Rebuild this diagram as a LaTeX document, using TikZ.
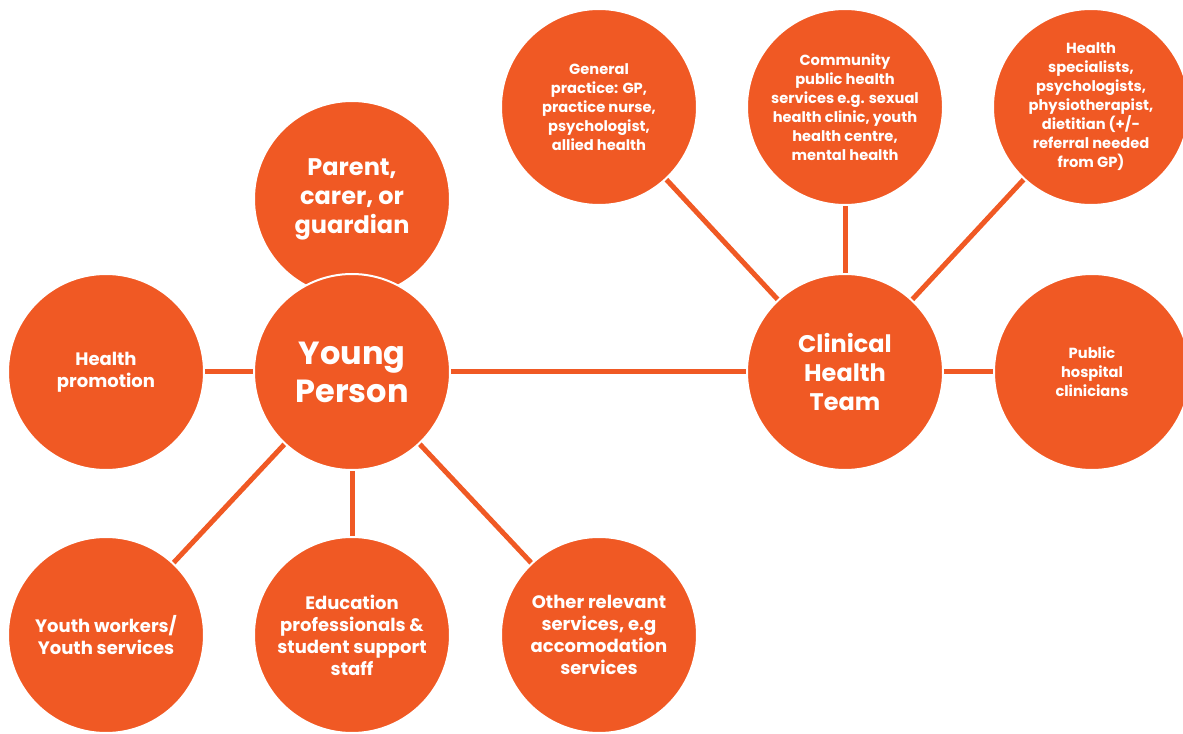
\documentclass[tikz,border=0pt]{standalone}
\usepackage{fontspec}
\newfontfamily\circfont{Poppins}
\usetikzlibrary{backgrounds}
\definecolor{carrot}{RGB}{240,89,36}

\tikzset{
  blob/.style={circle,fill=carrot,draw=white,line width=1.5pt,minimum size=147pt,
    inner sep=0pt,text=white,align=center,font=\circfont\bfseries},
  bigtext/.style={font=\circfont\bfseries\fontsize{24}{28.5}\selectfont},
  midtext/.style={font=\circfont\bfseries\fontsize{18}{21.75}\selectfont},
  lowtext/.style={font=\circfont\bfseries\fontsize{13.5}{16.5}\selectfont},
  smalltext/.style={font=\circfont\bfseries\fontsize{11}{14.25}\selectfont},
  link/.style={draw=carrot,line width=3.75pt}
}

\begin{document}
\begin{tikzpicture}[x=0.75pt,y=0.75pt]
\useasboundingbox (0,0) rectangle (1183,733);
% young person side
\node[blob,midtext] (parent) at (352,534) {Parent,\\carer, or\\guardian};
\node[blob,bigtext] (young) at (352,361) {Young\\Person};
\node[blob,lowtext] (promo) at (106,361) {Health\\promotion};
\node[blob,lowtext] (youth) at (106,98) {Youth workers/\\Youth services};
\node[blob,lowtext] (edu) at (352,98) {Education\\professionals \&\\student support\\staff};
\node[blob,lowtext] (other) at (599,98) {Other relevant\\services, e.g\\accomodation\\services};
% clinical side
\node[blob,midtext] (clinical) at (845,361) {Clinical\\Health\\Team};
\node[blob,smalltext] (gp) at (599,626) {General\\practice: GP,\\practice nurse,\\psychologist,\\allied health};
\node[blob,smalltext] (community) at (845,626) {Community\\public health\\services e.g. sexual\\health clinic, youth\\health centre,\\mental health};
\node[blob,smalltext] (special) at (1091,626) {Health\\specialists,\\psychologists,\\physiotherapist,\\dietitian (+/-\\referral needed\\from GP)};
\node[blob,smalltext] (hospital) at (1092,361) {Public\\hospital\\clinicians};
% connectors behind the circles
\begin{scope}[on background layer]
\foreach \a/\b in {young/promo,young/youth,young/edu,young/other,young/clinical,
  clinical/gp,clinical/community,clinical/special,clinical/hospital}
  \draw[link] (\a.center) -- (\b.center);
\end{scope}
\end{tikzpicture}
\end{document}
